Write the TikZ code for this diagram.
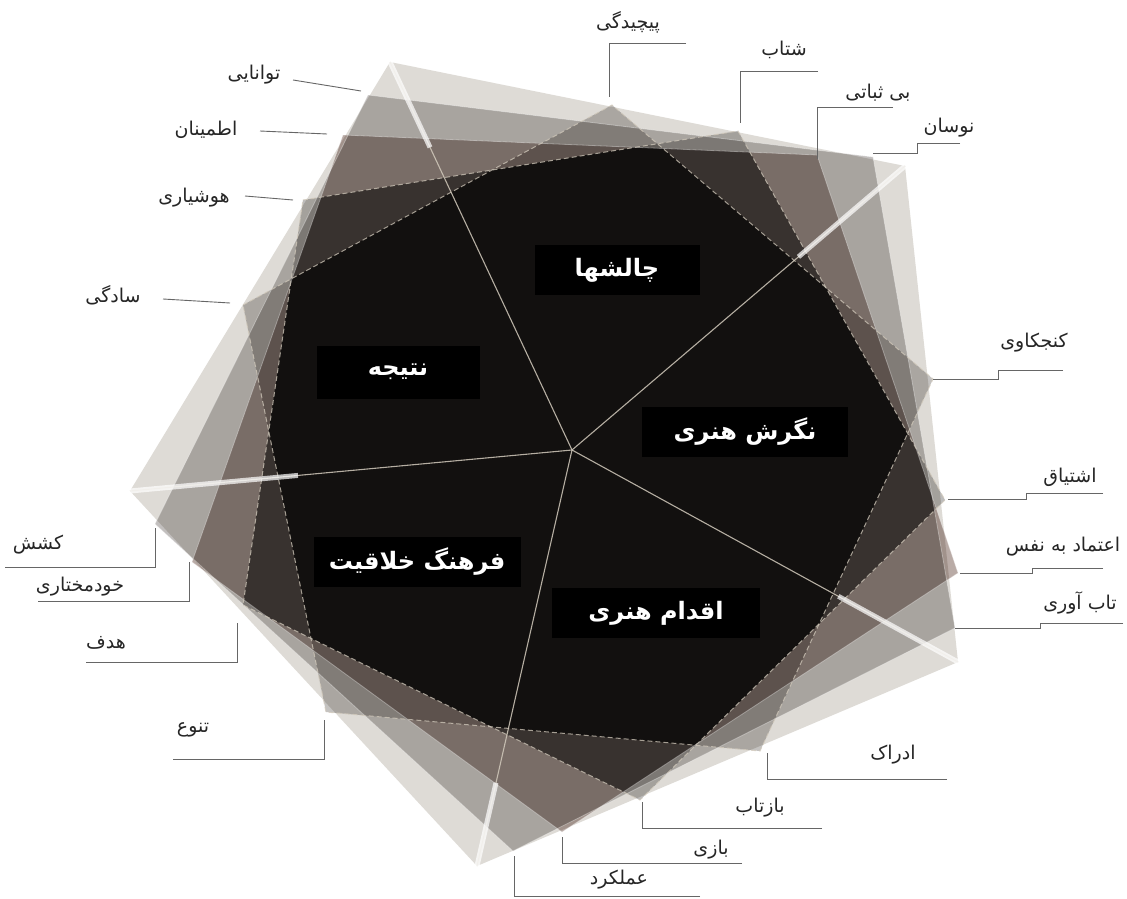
\documentclass[tikz,border=0pt]{standalone}
\usepackage{fontspec}
\usetikzlibrary{calc}
\newfontfamily\fa[Script=Arabic]{DejaVu Sans}
\TeXXeTstate=1
\definecolor{cz}{HTML}{DEDBD6}
\definecolor{ca}{HTML}{C2BFBE}
\definecolor{cb}{HTML}{B9ABA6}
\definecolor{cc}{HTML}{BDBCBB}
\definecolor{ccx}{HTML}{A1A0A0}
\definecolor{cd}{HTML}{C4C2C0}
\definecolor{cdx}{HTML}{737170}
\definecolor{lineclr}{HTML}{D2CABC}
\begin{document}
\begin{tikzpicture}[x=1pt,y=-1pt,
  lbl/.style={font=\fa\fontsize{19}{22}\selectfont, text=black!85, inner sep=0pt},
  boxlbl/.style={fill=black, text=white, font=\fa\bfseries\fontsize{24}{28}\selectfont, minimum height=50pt, inner sep=0pt},
  leader/.style={draw=black!60, line width=0.9pt},
  spoke/.style={draw=lineclr, line width=1.1pt, opacity=0.85},
  streak/.style={draw=white, line width=5pt, opacity=0.7},
  edgeA/.style={draw=white, line width=0.8pt, opacity=0.35},
  edgeB/.style={draw=lineclr, line width=1pt, opacity=0.75, dash pattern=on 5pt off 3pt}]
\useasboundingbox (0,0) rectangle (1127,899);
\fill[white] (0,0) rectangle (1127,899);
% centre
\coordinate (C) at (572,450);
% pentagon vertices
\coordinate (p0a) at (390,62);  \coordinate (p0b) at (905,166); \coordinate (p0c) at (958,662); \coordinate (p0d) at (477,866); \coordinate (p0e) at (130,491);
\coordinate (p1a) at (368,95);  \coordinate (p1b) at (873,157); \coordinate (p1c) at (955,628); \coordinate (p1d) at (513,851); \coordinate (p1e) at (155,524);
\coordinate (p2a) at (343,135); \coordinate (p2b) at (817,155); \coordinate (p2c) at (958,573); \coordinate (p2d) at (562,832); \coordinate (p2e) at (192,562);
\coordinate (p3a) at (303,200); \coordinate (p3b) at (738,131); \coordinate (p3c) at (945,500); \coordinate (p3d) at (640,800); \coordinate (p3e) at (243,605);
\coordinate (p4a) at (243,305); \coordinate (p4b) at (612,105); \coordinate (p4c) at (933,379); \coordinate (p4d) at (760,751); \coordinate (p4e) at (326,712);
% layered pentagons
\begin{scope}[blend mode=multiply]
\fill[cz] (p0a)--(p0b)--(p0c)--(p0d)--(p0e)--cycle;
\fill[ca] (p1a)--(p1b)--(p1c)--(p1d)--(p1e)--cycle;
\fill[cb] (p2a)--(p2b)--(p2c)--(p2d)--(p2e)--cycle;
\fill[cc] (p3a)--(p3b)--(p3c)--(p3d)--(p3e)--cycle;
\fill[cd] (p4a)--(p4b)--(p4c)--(p4d)--(p4e)--cycle;
\begin{scope}
  \clip (p2a)--(p2b)--(p2c)--(p2d)--(p2e)--cycle;
  \clip (p1a)--(p1b)--(p1c)--(p1d)--(p1e)--cycle;
  \fill[ccx] (p3a)--(p3b)--(p3c)--(p3d)--(p3e)--cycle;
\end{scope}
\begin{scope}
  \clip (p3a)--(p3b)--(p3c)--(p3d)--(p3e)--cycle;
  \clip (p2a)--(p2b)--(p2c)--(p2d)--(p2e)--cycle;
  \fill[cdx] (p4a)--(p4b)--(p4c)--(p4d)--(p4e)--cycle;
\end{scope}
\end{scope}
% edges
\draw[edgeA] (p1a)--(p1b)--(p1c)--(p1d)--(p1e)--cycle;
\draw[edgeA] (p2a)--(p2b)--(p2c)--(p2d)--(p2e)--cycle;
\draw[edgeB] (p3a)--(p3b)--(p3c)--(p3d)--(p3e)--cycle;
\draw[edgeB] (p4a)--(p4b)--(p4c)--(p4d)--(p4e)--cycle;
% spokes
\foreach \v/\f in {p0a/0.78,p0b/0.68,p0c/0.69,p0d/0.8,p0e/0.62}{
  \draw[spoke] (C) -- (\v);
  \draw[streak] ($(C)!\f!(\v)$) -- (\v);
}
% boxes
\node[boxlbl, minimum width=165pt] (b1) at (617,270) {\beginR چالشها\endR};
\node[boxlbl, minimum width=163pt, minimum height=53pt] (b2) at (398,372) {\beginR نتیجه\endR};
\node[boxlbl, minimum width=206pt] (b3) at (745,432) {\beginR نگرش هنری\endR};
\node[boxlbl, minimum width=207pt] (b4) at (417,562) {\beginR فرهنگ خلاقیت\endR};
\node[boxlbl, minimum width=208pt] (b5) at (656,613) {\beginR اقدام هنری\endR};
% labels
\node[lbl] (l1) at (254,75) {\beginR توانایی\endR};
\node[lbl] (l2) at (206,130) {\beginR اطمینان\endR};
\node[lbl] (l3) at (194,198) {\beginR هوشیاری\endR};
\node[lbl] (l4) at (113,295) {\beginR سادگی\endR};
\node[lbl] (l5) at (628,22) {\beginR پیچیدگی\endR};
\node[lbl] (l6) at (784,50) {\beginR شتاب\endR};
\node[lbl] (l7) at (878,93) {\beginR بی ثباتی\endR};
\node[lbl] (l8) at (949,128) {\beginR نوسان\endR};
\node[lbl] (l9) at (1034,343) {\beginR کنجکاوی\endR};
\node[lbl] (l10) at (1070,477) {\beginR اشتیاق\endR};
\node[lbl] (l11) at (1063,547) {\beginR اعتماد به نفس\endR};
\node[lbl] (l12) at (1080,603) {\beginR تاب آوری\endR};
\node[lbl] (l13) at (893,755) {\beginR ادراک\endR};
\node[lbl] (l14) at (760,808) {\beginR بازتاب\endR};
\node[lbl] (l15) at (711,850) {\beginR بازی\endR};
\node[lbl] (l16) at (619,880) {\beginR عملکرد\endR};
\node[lbl] (l17) at (38,545) {\beginR کشش\endR};
\node[lbl] (l18) at (80,587) {\beginR خودمختاری\endR};
\node[lbl] (l19) at (106,643) {\beginR هدف\endR};
\node[lbl] (l20) at (193,730) {\beginR تنوع\endR};
% leader coordinates
\coordinate (s1) at (293,80);   \coordinate (t1) at (361,91);
\coordinate (s2) at (260,131);  \coordinate (t2) at (327,134);
\coordinate (s3) at (245,196);  \coordinate (t3) at (293,200);
\coordinate (s4) at (163,299);  \coordinate (t4) at (230,303);
\coordinate (s5) at (686,43);   \coordinate (t5) at (609,97);
\coordinate (s6) at (818,71);   \coordinate (t6) at (740,123);
\coordinate (s7) at (893,107);  \coordinate (t7) at (817,159);
\coordinate (s8) at (960,143);  \coordinate (t8) at (873,153);
\coordinate (s9) at (1063,370); \coordinate (t9) at (933,379);
\coordinate (s10) at (1103,493);\coordinate (t10) at (948,499);
\coordinate (s11) at (1103,568);\coordinate (t11) at (960,573);
\coordinate (s12) at (1123,623);\coordinate (t12) at (955,628);
\coordinate (s13) at (947,779); \coordinate (t13) at (767,753);
\coordinate (s14) at (822,828); \coordinate (t14) at (642,802);
\coordinate (s15) at (742,863); \coordinate (t15) at (562,837);
\coordinate (s16) at (700,896); \coordinate (t16) at (514,856);
\coordinate (s17) at (5,567);   \coordinate (t17) at (155,528);
\coordinate (s18) at (38,601);  \coordinate (t18) at (189,562);
\coordinate (s19) at (86,662);  \coordinate (t19) at (237,623);
\coordinate (s20) at (173,759); \coordinate (t20) at (324,720);
% leaders
\draw[leader] (s1) -- (t1);
\draw[leader] (s2) -- (t2);
\draw[leader] (s3) -- (t3);
\draw[leader] (s4) -- (t4);
\foreach \i in {5,6,7}{ \draw[leader] (s\i) -| (t\i); }
\draw[leader] (s8) -- (917,143) -- (917,153) -- (t8);
\draw[leader] (s9) -- (998,370) -- (998,379) -- (t9);
\draw[leader] (s10) -- (1026,493) -- (1026,499) -- (t10);
\draw[leader] (s11) -- (1032,568) -- (1032,573) -- (t11);
\draw[leader] (s12) -- (1040,623) -- (1040,628) -- (t12);
\foreach \i in {13,14,15,16,17,18,19,20}{ \draw[leader] (s\i) -| (t\i); }
\end{tikzpicture}
\end{document}
